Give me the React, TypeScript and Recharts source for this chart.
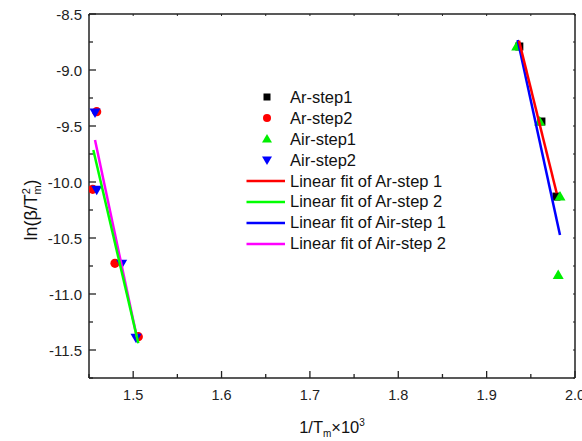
import React from 'react';
import {
  ComposedChart,
  Scatter,
  XAxis,
  YAxis,
  Legend,
} from 'recharts';

// Measured points, x = 1/Tm x 10^3, y = ln(beta/Tm^2)
const arStep1 = [
  { x: 1.937, y: -8.79 },
  { x: 1.962, y: -9.46 },
  { x: 1.979, y: -10.13 },
];
const arStep2 = [
  { x: 1.4587, y: -9.372 },
  { x: 1.4542, y: -10.065 },
  { x: 1.4794, y: -10.726 },
  { x: 1.5058, y: -11.381 },
];
const airStep1 = [
  { x: 1.934, y: -8.79 },
  { x: 1.96, y: -9.46 },
  { x: 1.983, y: -10.13 },
  { x: 1.981, y: -10.83 },
];
const airStep2 = [
  { x: 1.4568, y: -9.38 },
  { x: 1.4587, y: -10.07 },
  { x: 1.487, y: -10.73 },
  { x: 1.5032, y: -11.39 },
];

// Linear fit endpoints
const fitArStep1 = [
  { x: 1.9366, y: -8.738 },
  { x: 1.9793, y: -10.1 },
];
const fitArStep2 = [
  { x: 1.4549, y: -9.714 },
  { x: 1.5058, y: -11.44 },
];
const fitAirStep1 = [
  { x: 1.9351, y: -8.732 },
  { x: 1.983, y: -10.473 },
];
const fitAirStep2 = [
  { x: 1.4568, y: -9.625 },
  { x: 1.504, y: -11.38 },
];

const xTicks = [1.45, 1.5, 1.55, 1.6, 1.65, 1.7, 1.75, 1.8, 1.85, 1.9, 1.95, 2.0];
const yTicks = [-11.75, -11.5, -11.25, -11, -10.75, -10.5, -10.25, -10, -9.75, -9.5, -9.25, -9, -8.75, -8.5];

const FONT = '"Liberation Sans", Arial, sans-serif';
const AXIS = '#222';

const isMajor = (v: number, step: number) => Math.abs(v / step - Math.round(v / step)) < 1e-6;

const BottomTick = (props: any) => {
  const { x, y, payload } = props;
  const major = isMajor(payload.value, 0.1);
  return (
    <g>
      <line x1={x} x2={x} y1={y} y2={y - (major ? 7 : 4)} stroke={AXIS} strokeWidth={1.3} />
      {major && payload.value > 1.46 && (
        <text x={x} y={y + 21.5} textAnchor="middle" fontSize={14.5} fill="#222" fontFamily={FONT}>
          {payload.value.toFixed(1)}
        </text>
      )}
    </g>
  );
};

const LeftTick = (props: any) => {
  const { x, y, payload } = props;
  const major = isMajor(payload.value, 0.5);
  return (
    <g>
      <line x1={x} x2={x + (major ? 7 : 4)} y1={y} y2={y} stroke={AXIS} strokeWidth={1.3} />
      {major && payload.value > -11.6 && (
        <text x={x - 7} y={y + 5.5} textAnchor="end" fontSize={15} fill="#222" fontFamily={FONT}>
          {payload.value.toFixed(1)}
        </text>
      )}
    </g>
  );
};

const TopTick = (props: any) => {
  const { x, y } = props;
  return <line x1={x} x2={x} y1={y} y2={y + 2} stroke={AXIS} strokeWidth={1} />;
};

const RightTick = (props: any) => {
  const { x, y } = props;
  return <line x1={x} x2={x - 2} y1={y} y2={y} stroke={AXIS} strokeWidth={1} />;
};

const Square = ({ cx, cy }: any) => <rect x={cx - 4} y={cy - 4} width={8} height={8} fill="#000" />;
const Dot = ({ cx, cy }: any) => <circle cx={cx} cy={cy} r={4.6} fill="#ff0000" />;
const TriUp = ({ cx, cy }: any) => (
  <path d={`M${cx},${cy - 5.5} L${cx + 5.5},${cy + 4} L${cx - 5.5},${cy + 4} Z`} fill="#00ee00" />
);
const TriDown = ({ cx, cy }: any) => (
  <path d={`M${cx},${cy + 5.5} L${cx + 5.5},${cy - 4} L${cx - 5.5},${cy - 4} Z`} fill="#0000ff" />
);
const NoMark = () => <g />;

const legendRows = [
  { label: 'Ar-step1', kind: 'square', color: '#000' },
  { label: 'Ar-step2', kind: 'circle', color: '#ff0000' },
  { label: 'Air-step1', kind: 'up', color: '#00ee00' },
  { label: 'Air-step2', kind: 'down', color: '#0000ff' },
  { label: 'Linear fit of Ar-step 1', kind: 'line', color: '#ff0000' },
  { label: 'Linear fit of Ar-step 2', kind: 'line', color: '#00ff00' },
  { label: 'Linear fit of Air-step 1', kind: 'line', color: '#0000ff' },
  { label: 'Linear fit of Air-step 2', kind: 'line', color: '#ff00ff' },
];

const LegendIcon = ({ kind, color }: { kind: string; color: string }) => {
  const c = 21;
  let mark;
  if (kind === 'square') mark = <rect x={c - 3.5} y={6.5} width={7} height={7} fill={color} />;
  else if (kind === 'circle') mark = <circle cx={c} cy={10} r={4} fill={color} />;
  else if (kind === 'up') mark = <path d={`M${c},5 L${c + 5},13.5 L${c - 5},13.5 Z`} fill={color} />;
  else if (kind === 'down') mark = <path d={`M${c},15 L${c + 5},6.5 L${c - 5},6.5 Z`} fill={color} />;
  else mark = <line x1={0.5} x2={39} y1={10} y2={10} stroke={color} strokeWidth={2.5} />;
  return (
    <svg width={44} height={20} style={{ display: 'block' }}>
      {mark}
    </svg>
  );
};

const LegendBox = () => (
  <div style={{ fontFamily: FONT, fontSize: 16.5, color: '#111' }}>
    {legendRows.map((r) => (
      <div key={r.label} style={{ display: 'flex', alignItems: 'center', height: 20.9, whiteSpace: 'nowrap' }}>
        <LegendIcon kind={r.kind} color={r.color} />
        <span>{r.label}</span>
      </div>
    ))}
  </div>
);

export default function App() {
  return (
    <div style={{ position: 'absolute', left: 0, top: 0, width: 582, height: 441, background: '#fff' }}>
      <ComposedChart width={582} height={441} margin={{ top: 0, right: 0, bottom: 0, left: 0 }}>
        <XAxis
          xAxisId="bottom"
          dataKey="x"
          type="number"
          domain={[1.45, 2.0]}
          ticks={xTicks}
          allowDataOverflow
          height={63}
          tickSize={0}
          tickMargin={0}
          tickLine={false}
          axisLine={{ stroke: AXIS, strokeWidth: 1.5 }}
          tick={BottomTick}
          interval={0}
        />
        <XAxis
          xAxisId="top"
          orientation="top"
          dataKey="x"
          type="number"
          domain={[1.45, 2.0]}
          ticks={xTicks}
          allowDataOverflow
          height={14}
          tickSize={0}
          tickMargin={0}
          tickLine={false}
          axisLine={{ stroke: AXIS, strokeWidth: 1.5 }}
          tick={TopTick}
          interval={0}
        />
        <YAxis
          yAxisId="left"
          dataKey="y"
          type="number"
          domain={[-11.75, -8.5]}
          ticks={yTicks}
          allowDataOverflow
          width={89}
          tickSize={0}
          tickMargin={0}
          tickLine={false}
          axisLine={{ stroke: AXIS, strokeWidth: 1.5 }}
          tick={LeftTick}
          interval={0}
        />
        <YAxis
          yAxisId="right"
          orientation="right"
          dataKey="y"
          type="number"
          domain={[-11.75, -8.5]}
          ticks={yTicks}
          allowDataOverflow
          width={7}
          tickSize={0}
          tickMargin={0}
          tickLine={false}
          axisLine={{ stroke: AXIS, strokeWidth: 1.5 }}
          tick={RightTick}
          interval={0}
        />
        <Legend
          layout="vertical"
          align="center"
          verticalAlign="middle"
          content={() => <LegendBox />}
          wrapperStyle={{ position: 'absolute', left: 246, top: 87, width: 230, height: 170 }}
        />
        <Scatter xAxisId="bottom" yAxisId="left" data={arStep1} shape={Square} isAnimationActive={false} />
        <Scatter xAxisId="bottom" yAxisId="left" data={arStep2} shape={Dot} isAnimationActive={false} />
        <Scatter xAxisId="bottom" yAxisId="left" data={airStep1} shape={TriUp} isAnimationActive={false} />
        <Scatter xAxisId="bottom" yAxisId="left" data={airStep2} shape={TriDown} isAnimationActive={false} />
        <Scatter xAxisId="bottom" yAxisId="left" data={fitAirStep1} fill="#0000ff" line={{ stroke: '#0000ff', strokeWidth: 2.5 }} shape={NoMark} isAnimationActive={false} />
        <Scatter xAxisId="bottom" yAxisId="left" data={fitArStep1} fill="#ff0000" line={{ stroke: '#ff0000', strokeWidth: 2.5 }} shape={NoMark} isAnimationActive={false} />
        <Scatter xAxisId="bottom" yAxisId="left" data={fitAirStep2} fill="#ff00ff" line={{ stroke: '#ff00ff', strokeWidth: 2.5 }} shape={NoMark} isAnimationActive={false} />
        <Scatter xAxisId="bottom" yAxisId="left" data={fitArStep2} fill="#00ff00" line={{ stroke: '#00ff00', strokeWidth: 2.5 }} shape={NoMark} isAnimationActive={false} />
        <text x={37} y={210} transform="rotate(-90 37 210)" textAnchor="middle" fontSize={18} fill="#111" fontFamily={FONT}>
          ln(β/T<tspan dy={-7} fontSize={11}>2</tspan>
          <tspan dx={-6.5} dy={11} fontSize={11}>m</tspan>
          <tspan dy={-4}>)</tspan>
        </text>
        <text x={332} y={433} textAnchor="middle" fontSize={16.5} fill="#111" fontFamily={FONT}>
          1/T<tspan dy={4} fontSize={10}>m</tspan>
          <tspan dy={-4}>×10</tspan>
          <tspan dy={-7} fontSize={10}>3</tspan>
        </text>
      </ComposedChart>
    </div>
  );
}
